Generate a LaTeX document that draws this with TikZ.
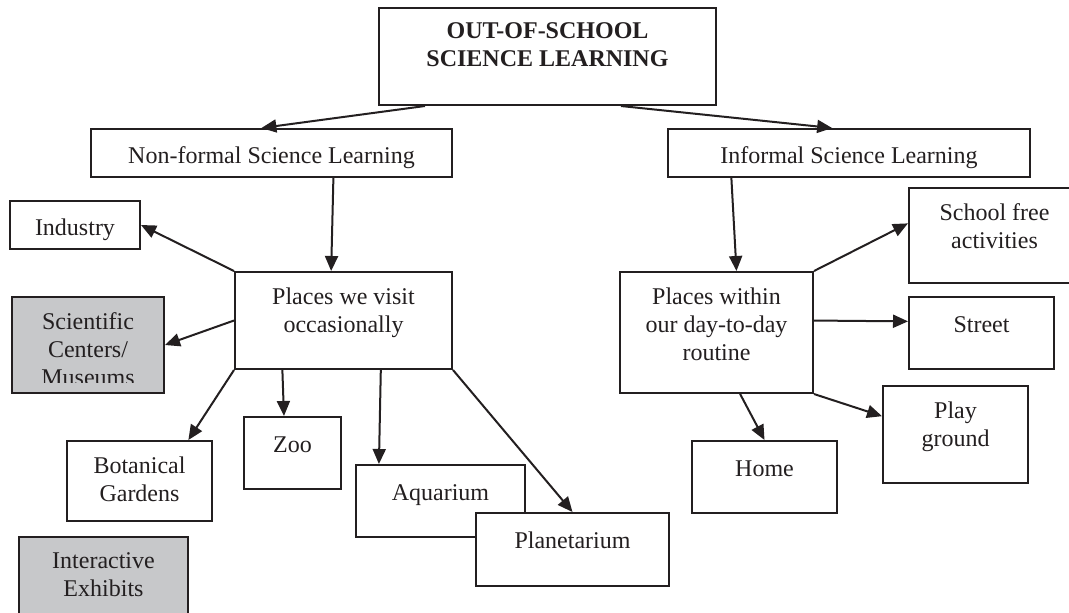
\documentclass[tikz,border=0pt]{standalone}
\usepackage{fontspec}
\setmainfont{Liberation Serif}
\usetikzlibrary{positioning,arrows.meta}
\definecolor{ink}{RGB}{35,31,32}
\definecolor{boxgray}{RGB}{199,200,202}

\begin{document}
\begin{tikzpicture}[x=0.5pt, y=-0.5pt,
  box/.style={draw=ink, line width=1pt, fill=white, rectangle, inner sep=0pt},
  greybox/.style={box, fill=boxgray},
  txt/.style={align=center, inner sep=0pt, text=ink, font=\fontsize{12}{14}\selectfont, execute at begin node=\strut},
  arr/.style={ink, line width=1pt, -{Triangle[length=7.5pt,width=6.5pt]}}]
\useasboundingbox (0,0) rectangle (1069,612);
\clip (0,0) rectangle (1069,612);
 % boxes
  \node (top) at (547.5,56.5) [box, minimum width=168.5pt, minimum height=48.5pt] {};
  \node (top-t) [txt, font=\fontsize{12}{14}\selectfont\bfseries, below=7.5pt of top.north] {OUT-OF-SCHOOL\\SCIENCE LEARNING};
  \node (nf) at (271.5,153) [box, minimum width=180.5pt, minimum height=24pt] {};
  \node (nf-t) [txt, below=7.5pt of nf.north] {Non-formal Science Learning};
  \node (inf) at (849,153) [box, minimum width=181pt, minimum height=24pt] {};
  \node (inf-t) [txt, below=7.5pt of inf.north] {Informal Science Learning};
  \node (ind) at (75,225) [box, minimum width=65pt, minimum height=24pt] {};
  \node (ind-t) [txt, below=7.5pt of ind.north] {Industry};
  \node (places) at (343.5,320.5) [box, minimum width=108.5pt, minimum height=48.5pt] {};
  \node (places-t) [txt, below=8pt of places.north] {Places we visit\\occasionally};
  \node (sci) at (88,345) [greybox, minimum width=76pt, minimum height=48pt] {};
  \begin{scope}
    \clip (sci.north west) rectangle ([yshift=6pt]sci.south east);
    \node (sci-t) [txt, below=8pt of sci.north] {Scientific\\Centers/\\Museums};
  \end{scope}
  \node (zoo) at (292.5,453) [box, minimum width=48.5pt, minimum height=36pt] {};
  \node (zoo-t) [txt, below=8pt of zoo.north] {Zoo};
  \node (bot) at (139.5,481) [box, minimum width=72.5pt, minimum height=40pt] {};
  \node (bot-t) [txt, below=8pt of bot.north] {Botanical\\Gardens};
  \node (aqua) at (440.5,501) [box, minimum width=84.5pt, minimum height=36pt] {};
  \node (aqua-t) [txt, below=8pt of aqua.north] {Aquarium};
  \node (plan) at (572.5,549.5) [box, minimum width=96.5pt, minimum height=36.5pt] {};
  \node (plan-t) [txt, below=8pt of plan.north] {Planetarium};
  \node (inter) at (103.5,588.5) [greybox, minimum width=84.5pt, minimum height=51.5pt] {};
  \node (inter-t) [txt, below=8pt of inter.north] {Interactive\\Exhibits};
  \node (within) at (716.5,332.5) [box, minimum width=96.5pt, minimum height=60.5pt] {};
  \node (within-t) [txt, below=8pt of within.north] {Places within\\our day-to-day\\routine};
  \node (school) at (994.5,235.5) [box, minimum width=85.5pt, minimum height=47.5pt] {};
  \node (school-t) [txt, below=8pt of school.north] {School free\\activities};
  \node (street) at (981.5,333) [box, minimum width=72.5pt, minimum height=36pt] {};
  \node (street-t) [txt, below=8pt of street.north] {Street};
  \node (play) at (955.5,434.5) [box, minimum width=72.5pt, minimum height=48.5pt] {};
  \node (play-t) [txt, below=8pt of play.north] {Play\\ground};
  \node (home) at (764.5,477) [box, minimum width=72.5pt, minimum height=36pt] {};
  \node (home-t) [txt, below=8pt of home.north] {Home};
 % arrows
  \path[arr] (top.-158) edge (nf.112);
  \path[arr] (top.-34) edge (inf.124);
  \path[arr] (nf.-22) edge (places.104);
  \path[arr] (places.north west) edge (ind.east);
  \path[arr] (places.west) edge (sci.east);
  \path[arr] (places.219) edge (zoo.103);
  \path[arr] (places.south west) edge (bot.40);
  \path[arr] (places.-53) edge (aqua.149);
  \path[arr] (places.south east) edge (plan.north);
  \path[arr] (inf.192) edge (within.72);
  \path[arr] (within.north east) edge (school.172);
  \path[arr] (within.7) edge (street.171);
  \path[arr] (within.south east) edge (play.166);
  \path[arr] (within.-69) edge (home.north);
\end{tikzpicture}
\end{document}
